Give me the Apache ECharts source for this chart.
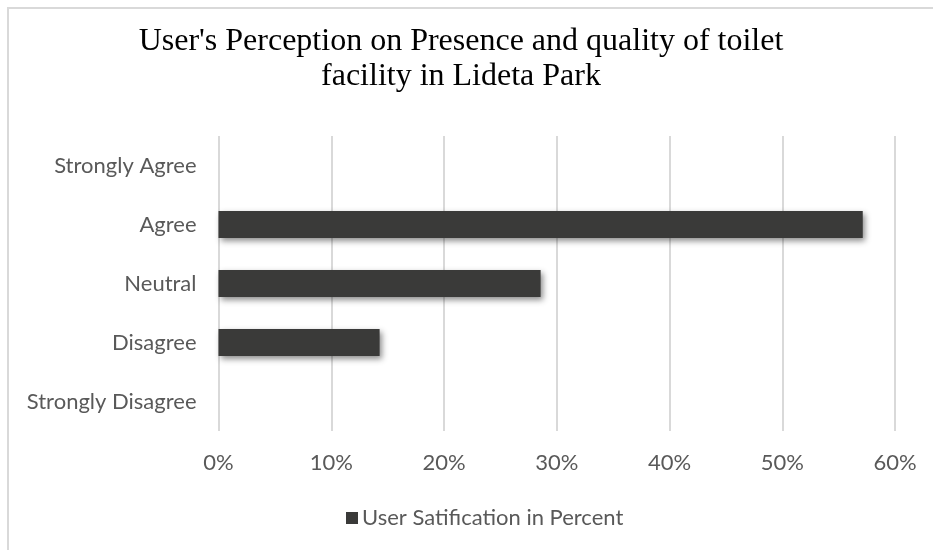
<!DOCTYPE html>
<html>
<head>
<meta charset="utf-8">
<style>
  html, body { margin: 0; padding: 0; background: #ffffff; }
  #chart { width: 933px; height: 550px; }
</style>
<script src="https://cdn.jsdelivr.net/npm/echarts@6/dist/echarts.min.js"></script>
</head>
<body>
<div id="chart"></div>
<script>
// Response categories, listed from top to bottom
const categories = ['Strongly Agree', 'Agree', 'Neutral', 'Disagree', 'Strongly Disagree'];
// Share of respondents per category (percent)
const satisfaction = [0, 57.14, 28.57, 14.29, 0];
// Horizontal axis ticks (percent)
const tickValues = [0, 10, 20, 30, 40, 50, 60];

const seriesName = 'User Satification in Percent';
const titleText = "User's Perception on Presence and quality of toilet\nfacility in Lideta Park";

const labelFont = 'Lato, "Open Sans", sans-serif';
const labelColor = '#595959';
const barColor = '#3a3a39';

const chart = echarts.init(document.getElementById('chart'), null, { renderer: 'canvas' });

chart.setOption({
  backgroundColor: '#ffffff',
  animation: false,
  graphic: [{
    type: 'rect',
    silent: true,
    shape: { x: 8, y: 8, width: 960, height: 580 },
    style: { fill: 'none', stroke: '#d9d9d9', lineWidth: 2 }
  }],
  title: {
    text: titleText,
    left: 456,
    top: 19,
    textAlign: 'center',
    textStyle: {
      fontFamily: '"Liberation Serif", "Times New Roman", serif',
      fontSize: 32,
      fontWeight: 'normal',
      color: '#000000',
      lineHeight: 35
    }
  },
  legend: {
    data: [seriesName],
    left: 341,
    top: 502,
    icon: 'rect',
    itemWidth: 12,
    itemHeight: 12,
    itemGap: 6,
    textStyle: { fontFamily: labelFont, fontSize: 22, color: labelColor, padding: [0, 0, 0, -1] }
  },
  grid: {
    left: 218.5,
    right: 38,
    top: 136,
    bottom: 119,
    containLabel: false
  },
  xAxis: {
    type: 'value',
    min: tickValues[0],
    max: tickValues[tickValues.length - 1],
    interval: tickValues[1] - tickValues[0],
    axisLine: { show: false },
    axisTick: { show: false },
    splitLine: { show: true, lineStyle: { color: '#d9d9d9', width: 2 } },
    axisLabel: {
      margin: 21,
      formatter: v => v + '%',
      fontFamily: labelFont,
      fontSize: 22,
      color: labelColor
    }
  },
  yAxis: {
    type: 'category',
    data: categories,
    inverse: true,
    axisLine: { show: false },
    axisTick: { show: false },
    splitLine: { show: false },
    axisLabel: {
      margin: 22,
      fontFamily: labelFont,
      fontSize: 22,
      color: labelColor
    }
  },
  series: [{
    name: seriesName,
    type: 'bar',
    data: satisfaction,
    barWidth: 27,
    itemStyle: {
      color: barColor,
      shadowColor: 'rgba(0,0,0,0.45)',
      shadowBlur: 6,
      shadowOffsetX: 2,
      shadowOffsetY: 3
    }
  }]
});
</script>
</body>
</html>
